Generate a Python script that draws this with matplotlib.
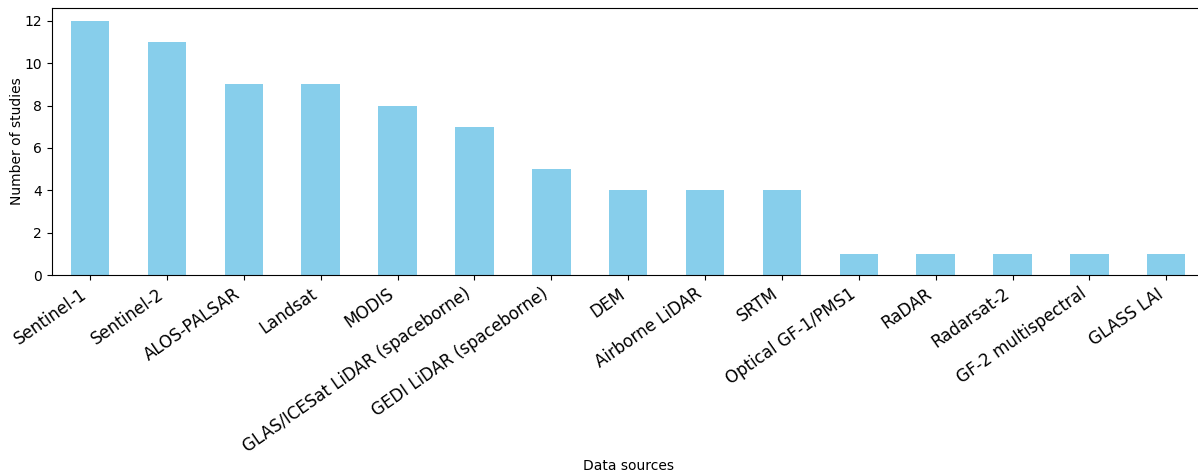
import matplotlib
matplotlib.use('Agg')
import matplotlib.pyplot as plt

sources = ['Sentinel-1', 'Sentinel-2', 'ALOS-PALSAR', 'Landsat', 'MODIS',
           'GLAS/ICESat LiDAR (spaceborne)', 'GEDI LiDAR (spaceborne)', 'DEM',
           'Airborne LiDAR', 'SRTM', 'Optical GF-1/PMS1', 'RaDAR', 'Radarsat-2',
           'GF-2 multispectral', 'GLASS LAI']
studies = [12, 11, 9, 9, 8, 7, 5, 4, 4, 4, 1, 1, 1, 1, 1]

fig = plt.figure(figsize=(11.98, 4.75), dpi=100)
ax = fig.add_axes([0.0431, 0.421, 0.9625, 0.562])
pos = list(range(len(sources)))
ax.bar(pos, studies, width=0.5, color='skyblue')
ax.set_xlim(-0.5, len(sources) - 0.5)
ax.set_ylim(0, 12.6)
ax.set_xticks(pos)
ax.set_xticklabels(sources, rotation=35, ha='right', fontsize=12)
ax.set_xlabel('Data sources', fontsize=10)
ax.set_ylabel('Number of studies', fontsize=10)
ax.xaxis.set_label_coords(0.5, -0.69)
ax.yaxis.set_label_coords(-0.024, 0.5)

fig.savefig('out.png', dpi=100)
